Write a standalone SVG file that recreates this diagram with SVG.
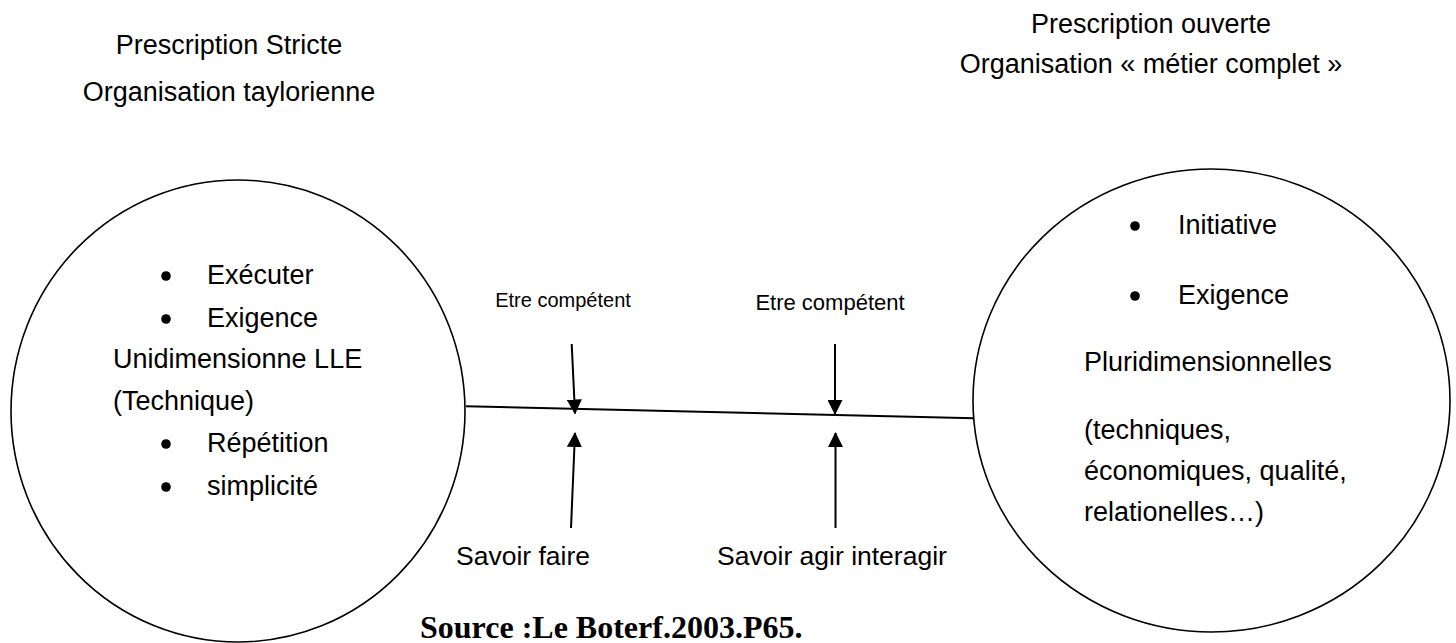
<svg xmlns="http://www.w3.org/2000/svg" width="1456" height="643" viewBox="0 0 1456 643">
  <style>
    .t { font-family: "Liberation Sans", Arial, sans-serif; font-size: 27px; fill: #000; }
    .m { text-anchor: middle; }
    .s1 { font-size: 20px; }
    .s2 { font-size: 22px; }
    .sv { font-size: 26.5px; }
    .src { font-family: "Liberation Serif", "Times New Roman", serif; font-weight: bold; font-size: 32px; fill: #000; }
    .circ { fill: none; stroke: #000; stroke-width: 1.6; }
    .conn { fill: none; stroke: #000; stroke-width: 2; }
    .bul { fill: #000; }
  </style>
  <defs>
    <marker id="arr" viewBox="0 0 15 15" refX="14" refY="7.5" markerWidth="15" markerHeight="15" markerUnits="userSpaceOnUse" orient="auto">
      <path d="M0,0 L15,7.5 L0,15 z" fill="#000"/>
    </marker>
  </defs>
  <rect width="1456" height="643" fill="#fff"/>

  <g id="title-left">
    <text class="t m" x="229" y="54">Prescription Stricte</text>
    <text class="t m" x="229" y="101">Organisation taylorienne</text>
  </g>
  <g id="title-right">
    <text class="t m" x="1151" y="33">Prescription ouverte</text>
    <text class="t m" x="1151" y="73">Organisation « métier complet »</text>
  </g>

  <g id="node-left">
    <ellipse class="circ" cx="238" cy="411" rx="227" ry="231"/>
    <circle class="bul" cx="166" cy="276" r="4.8"/>
    <text class="t" x="207" y="284">Exécuter</text>
    <circle class="bul" cx="166" cy="319" r="4.8"/>
    <text class="t" x="207" y="327">Exigence</text>
    <text class="t" x="113" y="368">Unidimensionne LLE</text>
    <text class="t" x="113" y="410">(Technique)</text>
    <circle class="bul" cx="166" cy="444" r="4.8"/>
    <text class="t" x="207" y="452">Répétition</text>
    <circle class="bul" cx="166" cy="487" r="4.8"/>
    <text class="t" x="207" y="495">simplicité</text>
  </g>

  <g id="node-right">
    <ellipse class="circ" cx="1211.5" cy="400.5" rx="238.5" ry="231.5"/>
    <circle class="bul" cx="1135" cy="226" r="4.8"/>
    <text class="t" x="1178" y="234">Initiative</text>
    <circle class="bul" cx="1135" cy="296" r="4.8"/>
    <text class="t" x="1178" y="304">Exigence</text>
    <text class="t" x="1084" y="371">Pluridimensionnelles</text>
    <text class="t" x="1084" y="439">(techniques,</text>
    <text class="t" x="1084" y="480">économiques, qualité,</text>
    <text class="t" x="1084" y="521">relationelles…)</text>
  </g>

  <g id="labels">
    <text class="t m s1" x="563" y="307">Etre compétent</text>
    <text class="t m s2" x="830" y="310">Etre compétent</text>
    <text class="t m sv" x="523" y="565">Savoir faire</text>
    <text class="t m sv" x="832" y="565">Savoir agir interagir</text>
  </g>

  <g id="connectors">
    <line class="conn" x1="466" y1="406.3" x2="974" y2="418.3"/>
    <line class="conn" x1="571.7" y1="344" x2="575" y2="413.5" marker-end="url(#arr)"/>
    <line class="conn" x1="571" y1="528" x2="575" y2="433" marker-end="url(#arr)"/>
    <line class="conn" x1="835" y1="344" x2="835" y2="414" marker-end="url(#arr)"/>
    <line class="conn" x1="835.5" y1="528" x2="835.5" y2="433" marker-end="url(#arr)"/>
  </g>

  <g id="source">
    <text class="src" x="420" y="638">Source :Le Boterf.2003.P65.</text>
  </g>
</svg>
